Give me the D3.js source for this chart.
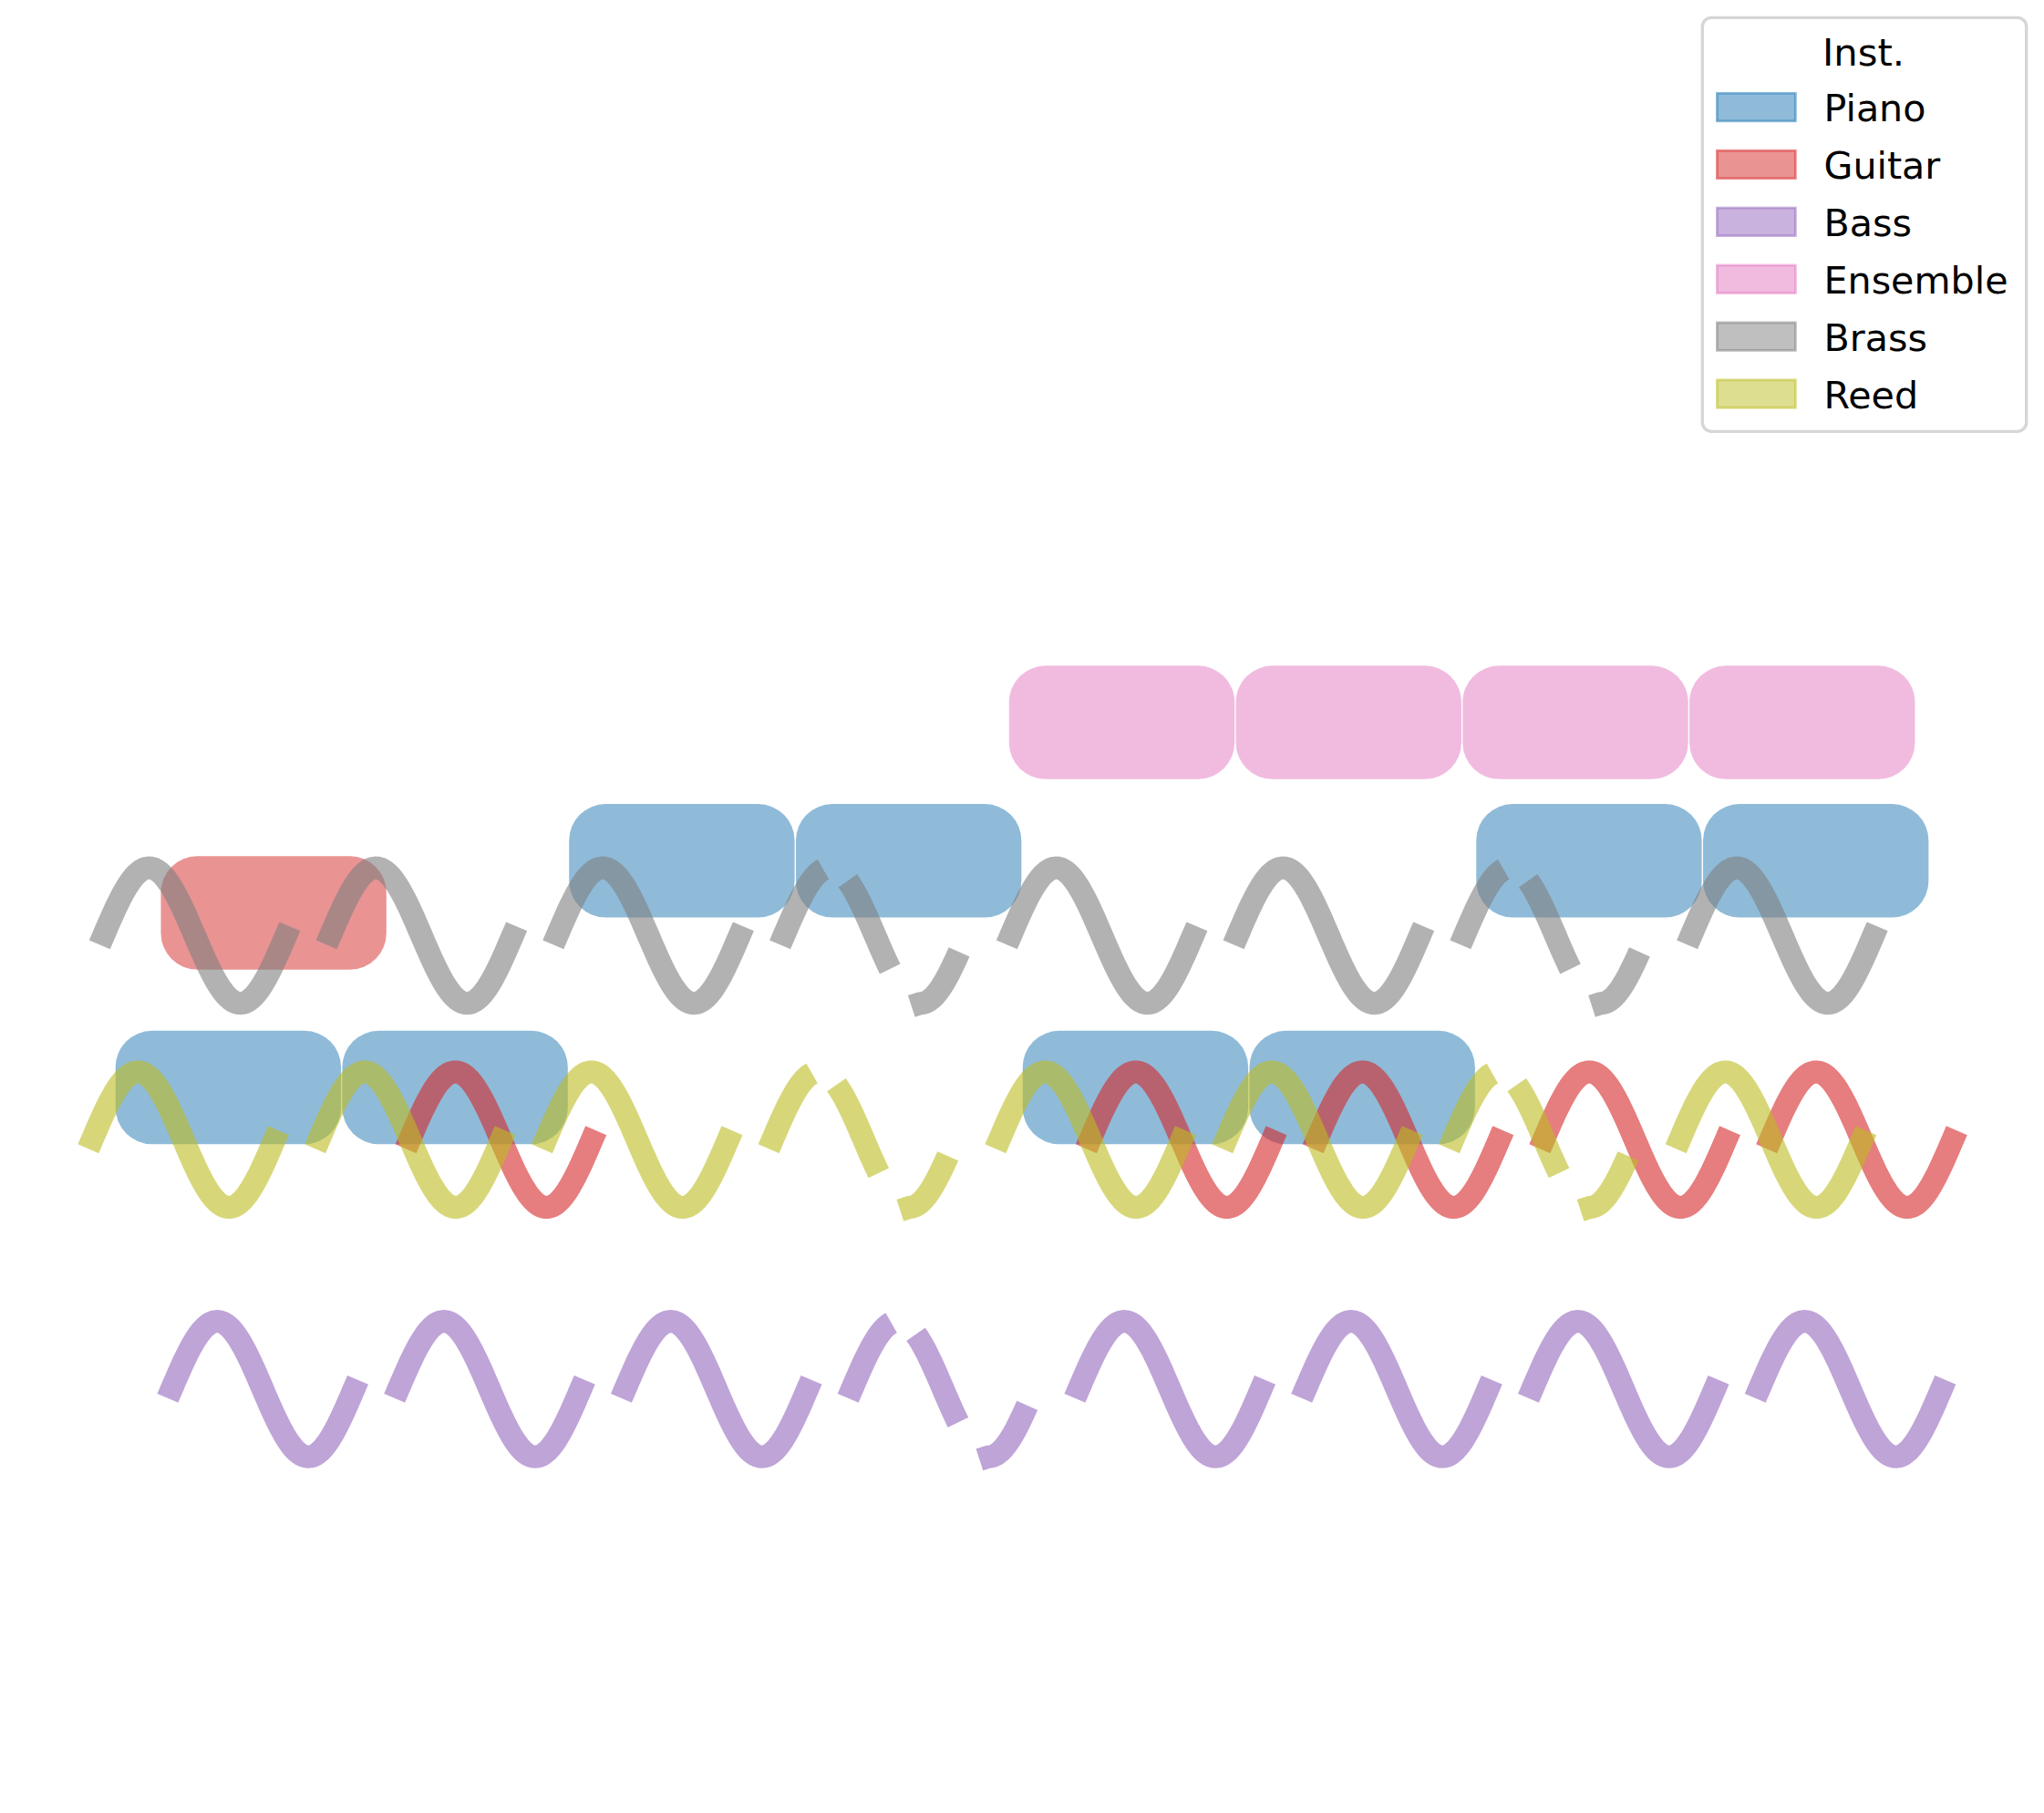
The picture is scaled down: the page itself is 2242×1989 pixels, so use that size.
<!DOCTYPE html>
<html>
<head>
<meta charset="utf-8">
<script src="https://cdn.jsdelivr.net/npm/d3@7"></script>
<style>
  body { margin: 0; background: #fff; }
  text { font-family: "DejaVu Sans", sans-serif; }
</style>
</head>
<body>
<div id="roll"></div>
<script>
// note data: start time (beats) and pitch row
var pianoStarts = [0, 1, 2, 3, 4, 5, 6, 7];
var pianoPitch = [1.33, 1.33, 2.33, 2.33, 1.33, 1.33, 2.33, 2.33];
var guitarBoxStarts = [0.2];
var guitarBoxPitch = [2.1];
var ensembleStarts = [3.94, 4.94, 5.94, 6.94];
var ensemblePitch = [2.94, 2.94, 2.94, 2.94];

// wave-style notes: start time, centre row, broken flag
var guitarWaveStarts = [1.28, 4.28, 5.28, 6.28, 7.28];
var guitarWaveBroken = [0, 0, 0, 0, 0];
var guitarWaveRow = 1.1;
var bassWaveStarts = [0.23, 1.23, 2.23, 3.23, 4.23, 5.23, 6.23, 7.23];
var bassWaveBroken = [0, 0, 0, 1, 0, 0, 0, 0];
var bassWaveRow = 0;
var brassWaveStarts = [-0.07, 0.93, 1.93, 2.93, 3.93, 4.93, 5.93, 6.93];
var brassWaveBroken = [0, 0, 0, 1, 0, 0, 1, 0];
var brassWaveRow = 2.0;
var reedWaveStarts = [-0.12, 0.88, 1.88, 2.88, 3.88, 4.88, 5.88, 6.88];
var reedWaveBroken = [0, 0, 0, 1, 0, 0, 1, 0];
var reedWaveRow = 1.1;

var instruments = ["Piano", "Guitar", "Bass", "Ensemble", "Brass", "Reed"];
var colors = ["#1f77b4", "#d62728", "#9467bd", "#e377c2", "#7f7f7f", "#bcbd22"];

var W = 2242, H = 1989;
var unit = 248.76;

var svg = d3.select("#roll").append("svg")
  .attr("width", W).attr("height", H)
  .style("background", "#fff");

var x = d3.scaleLinear().domain([0, 8]).range([126.7, 126.7 + 8 * unit]);
var y = d3.scaleLinear().domain([0, 3]).range([1523.9, 1523.9 - 3 * unit]);

// sine glyph for a wave note (in beats)
var waveLen = 0.8386, wavePeriod = 0.804, wavePhase = -0.0215, waveAmp = 0.2987;
function sineAt(r) {
  return Math.sin(2 * Math.PI * (r / wavePeriod + wavePhase));
}
function sampleWave(a, b) {
  var pts = [], n = Math.max(4, Math.round((b - a) * 120));
  for (var i = 0; i <= n; i++) {
    var r = a + (b - a) * i / n;
    pts.push([r, sineAt(r)]);
  }
  return pts;
}
// pieces of a "broken" wave
var brokenPieces = [[0, 0.191], [0.2987, 0.4852], [0.62, 0.79]];
var brokenLead = [0.5797, -1.044];

var line = d3.line();

function drawBoxes(starts, pitch, color) {
  svg.append("g").selectAll("rect")
    .data(starts.map(function (s, i) { return { t: s, p: pitch[i] }; }))
    .enter().append("rect")
    .attr("x", function (d) { return x(d.t); })
    .attr("y", function (d) { return y(d.p + 0.25); })
    .attr("width", function (d) { return x(d.t + 1) - x(d.t) - 1.4; })
    .attr("height", function (d) { return y(d.p - 0.25) - y(d.p + 0.25); })
    .attr("rx", 40).attr("ry", 40)
    .attr("fill", color)
    .attr("fill-opacity", 0.5);
}

function drawWaves(starts, broken, row, color) {
  var g = svg.append("g");
  starts.forEach(function (s, i) {
    var pieces;
    if (broken[i]) {
      pieces = brokenPieces.map(function (pc, j) {
        var pts = sampleWave(pc[0], pc[1]);
        if (j === 2) pts.unshift(brokenLead);
        return pts;
      });
    } else {
      pieces = [sampleWave(0, waveLen)];
    }
    var d = pieces.map(function (pts) {
      return line(pts.map(function (p) {
        return [x(s + p[0]), y(row + p[1] * waveAmp)];
      }));
    }).join("");
    g.append("path")
      .attr("d", d)
      .attr("fill", "none")
      .attr("stroke", color)
      .attr("stroke-opacity", 0.6)
      .attr("stroke-width", 25)
      .attr("stroke-linecap", "butt")
      .attr("stroke-linejoin", "round");
  });
}

drawBoxes(pianoStarts, pianoPitch, colors[0]);
drawBoxes(guitarBoxStarts, guitarBoxPitch, colors[1]);
drawWaves(guitarWaveStarts, guitarWaveBroken, guitarWaveRow, colors[1]);
drawWaves(bassWaveStarts, bassWaveBroken, bassWaveRow, colors[2]);
drawBoxes(ensembleStarts, ensemblePitch, colors[3]);
drawWaves(brassWaveStarts, brassWaveBroken, brassWaveRow, colors[4]);
drawWaves(reedWaveStarts, reedWaveBroken, reedWaveRow, colors[5]);

// legend
var lg = svg.append("g");
lg.append("rect")
  .attr("x", 1867.3).attr("y", 19.3)
  .attr("width", 355.4).attr("height", 454)
  .attr("rx", 10).attr("ry", 10)
  .attr("fill", "#fff")
  .attr("stroke", "#d6d6d6")
  .attr("stroke-width", 3.3);
lg.append("text")
  .attr("x", 2044).attr("y", 71.7)
  .attr("text-anchor", "middle")
  .attr("font-size", 41.7)
  .text("Inst.");
instruments.forEach(function (name, i) {
  var base = 133.3 + i * 62.9;
  lg.append("rect")
    .attr("x", 1883.4).attr("y", base - 31)
    .attr("width", 86).attr("height", 30.5)
    .attr("fill", colors[i]).attr("fill-opacity", 0.5)
    .attr("stroke", colors[i]).attr("stroke-opacity", 0.5)
    .attr("stroke-width", 2.8);
  lg.append("text")
    .attr("x", 2000.5).attr("y", base)
    .attr("font-size", 41.2)
    .text(name);
});
</script>
</body>
</html>
